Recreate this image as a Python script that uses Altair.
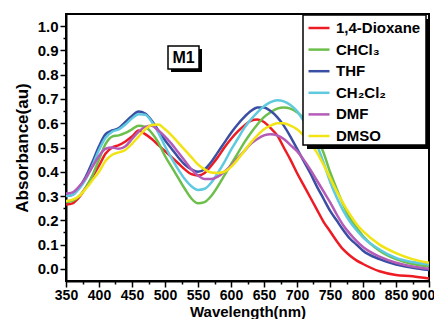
import altair as alt
import pandas as pd

wavelength = [350, 360, 370, 380, 390, 400, 410, 420, 430, 440, 450, 460, 470, 480, 490,
              500, 510, 520, 530, 540, 550, 560, 570, 580, 590, 600, 610, 620, 630, 640,
              650, 660, 670, 680, 690, 700, 710, 720, 730, 740, 750, 760, 770, 780, 790,
              800, 825, 850, 875, 900]

dioxane = [.265, .27, .295, .335, .38, .425, .475, .50, .51, .525, .545, .57, .555, .535, .51,
           .485, .46, .435, .41, .39, .385, .395, .425, .46, .50, .535, .565, .59, .61, .615,
           .605, .58, .55, .50, .45, .395, .345, .295, .245, .195, .155, .115, .08, .055, .035,
           .02, -.01, -.025, -.03, -.04]
chcl3 = [.275, .28, .30, .335, .385, .45, .515, .545, .55, .56, .575, .59, .585, .56, .52,
         .465, .42, .375, .33, .29, .27, .275, .30, .34, .385, .43, .475, .52, .56, .595,
         .625, .645, .66, .665, .66, .645, .62, .585, .54, .48, .40, .33, .265, .21, .17,
         .135, .075, .04, .02, .01]
thf = [.30, .305, .335, .38, .44, .505, .555, .57, .58, .605, .63, .648, .64, .61, .57,
       .53, .495, .46, .43, .41, .40, .41, .44, .48, .52, .56, .595, .625, .65, .665,
       .665, .65, .625, .59, .545, .495, .445, .395, .34, .29, .24, .20, .16, .125, .10,
       .075, .04, .018, .005, -.005]
ch2cl2 = [.30, .305, .33, .37, .425, .49, .54, .565, .575, .595, .62, .637, .635, .605, .56,
          .505, .455, .41, .37, .34, .325, .33, .355, .395, .44, .49, .535, .58, .615, .645,
          .67, .687, .695, .69, .675, .65, .61, .565, .51, .44, .36, .295, .24, .195, .16,
          .13, .08, .045, .028, .018]
dmf = [.31, .315, .34, .375, .42, .465, .495, .50, .495, .505, .535, .565, .585, .59, .57,
       .545, .515, .48, .445, .41, .385, .37, .37, .38, .40, .425, .455, .485, .515, .535,
       .55, .555, .55, .535, .51, .485, .45, .41, .365, .32, .275, .225, .18, .145, .115,
       .09, .05, .025, .01, .0]
dmso = [.28, .285, .30, .33, .365, .40, .445, .47, .48, .49, .515, .545, .575, .593, .595,
        .575, .55, .52, .49, .46, .43, .41, .397, .395, .40, .42, .45, .485, .52, .55,
        .575, .59, .60, .60, .59, .575, .55, .52, .48, .43, .375, .32, .27, .225, .185,
        .155, .10, .065, .04, .025]

names = ["1,4-Dioxane", "CHCl\u2083", "THF", "CH\u2082Cl\u2082", "DMF", "DMSO"]
colors = ["#ED1C24", "#6DBF4B", "#3A4FA3", "#5FC9E0", "#B45BB8", "#F2E414"]
series = [dioxane, chcl3, thf, ch2cl2, dmf, dmso]

x_major = list(range(350, 901, 50))
x_minor = list(range(375, 900, 50))
y_major = [round(i * 0.1, 1) for i in range(11)]
y_minor = [round(0.05 + i * 0.1, 2) for i in range(10)]

rows = []
for name, vals in zip(names, series):
    for w, v in zip(wavelength, vals):
        rows.append({"wavelength": w, "absorbance": v, "solvent": name})
df = pd.DataFrame(rows)

FONT = "Liberation Sans"
xscale = alt.Scale(domain=[350, 900], nice=False, zero=False)
yscale = alt.Scale(domain=[-0.05, 1.05], nice=False, zero=False)

lines = alt.Chart(df).mark_line(strokeWidth=2.5, interpolate="monotone").encode(
    x=alt.X("wavelength:Q", scale=xscale,
            axis=alt.Axis(values=x_major, title="Wavelength(nm)", grid=False,
                          labelFont=FONT, labelFontSize=14, labelFontWeight="bold",
                          labelColor="black", titleFont=FONT, titleFontSize=15,
                          titleFontWeight="bold", titleColor="black",
                          titleBaseline="alphabetic", titleY=35,
                          labelOffset={"condition": {"test": "datum.value == 900", "value": -6},
                                       "value": 0},
                          domainColor="black", domainWidth=2, tickColor="black",
                          tickWidth=1.5, tickSize=6, labelPadding=1,
                          labelFlush=False)),
    y=alt.Y("absorbance:Q", scale=yscale,
            axis=alt.Axis(values=y_major, format=".1f", title="Absorbance(au)", grid=False,
                          labelFont=FONT, labelFontSize=15, labelFontWeight="bold",
                          labelColor="black", titleFont=FONT, titleFontSize=17,
                          titleFontWeight="bold", titleColor="black",
                          domainColor="black", domainWidth=2, tickColor="black",
                          tickWidth=1.5, tickSize=6, labelPadding=2, titlePadding=6)),
    color=alt.Color("solvent:N", scale=alt.Scale(domain=names, range=colors),
                    legend=alt.Legend(title=None, orient="none", legendX=241, legendY=2,
                                      symbolType="stroke", symbolStrokeWidth=2.5,
                                      symbolSize=441, labelFont=FONT, labelFontSize=15,
                                      labelFontWeight="bold", labelColor="black",
                                      labelOffset=5, rowPadding=1.6, padding=0)),
)

minor = alt.Chart(df).mark_point(opacity=0).encode(
    x=alt.X("wavelength:Q", scale=xscale,
            axis=alt.Axis(orient="bottom", values=x_minor, labels=False, title=None,
                          domain=False, grid=False, tickColor="black", tickWidth=1.5,
                          tickSize=3)),
    y=alt.Y("absorbance:Q", scale=yscale,
            axis=alt.Axis(orient="left", values=y_minor, labels=False, title=None,
                          domain=False, grid=False, tickColor="black", tickWidth=1.5,
                          tickSize=3)),
)

one = pd.DataFrame({"k": [0]})
leg_shadow = alt.Chart(one).mark_rect(fill="black").encode(
    x=alt.value(241), x2=alt.value(364), y=alt.value(5), y2=alt.value(135))
leg_box = alt.Chart(one).mark_rect(fill="white", stroke="black", strokeWidth=1.5).encode(
    x=alt.value(237), x2=alt.value(360), y=alt.value(1), y2=alt.value(131))
m1_shadow = alt.Chart(one).mark_rect(fill="black").encode(
    x=alt.value(105), x2=alt.value(136), y=alt.value(35), y2=alt.value(58))
m1_box = alt.Chart(one).mark_rect(fill="white", stroke="black", strokeWidth=1.5).encode(
    x=alt.value(102), x2=alt.value(133), y=alt.value(32), y2=alt.value(55))
m1_text = alt.Chart(one).mark_text(text="M1", font=FONT, fontSize=16, fontWeight="bold",
                                   color="black", align="center", baseline="middle").encode(
    x=alt.value(117.5), y=alt.value(44))

chart = alt.layer(lines, minor, leg_shadow, leg_box, m1_shadow, m1_box, m1_text).resolve_scale(
    x="independent", y="independent"
).properties(
    width=363, height=267,
    autosize=alt.AutoSizeParams(type="none"),
    padding={"left": 58, "top": 6, "right": 5, "bottom": 38},
).configure_view(stroke="black", strokeWidth=2)

chart.save("out.html", embed_options={"renderer": "svg", "actions": False})
